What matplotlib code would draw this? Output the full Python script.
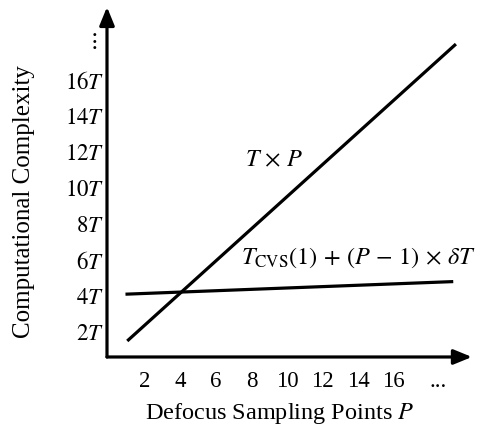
import matplotlib.pyplot as plt
import matplotlib.transforms as mtransforms
import numpy as np

plt.rcParams['font.family'] = ['Liberation Serif', 'DejaVu Serif']
plt.rcParams['mathtext.fontset'] = 'stix'

# data (units of T)
p_linear = [1.0, 19.5]
c_linear = [1.5, 18.0]
p_cvs = [0.9, 19.35]
c_cvs = [4.1, 4.8]

x_ticks = [2, 4, 6, 8, 10, 12, 14, 16, 18.5]
x_labels = ['2', '4', '6', '8', '10', '12', '14', '16', '...']
y_ticks = [2, 4, 6, 8, 10, 12, 14, 16, 18.3]
y_labels = [r'$2T$', r'$4T$', r'$6T$', r'$8T$', r'$10T$', r'$12T$',
            r'$14T$', r'$16T$', r'$\vdots$']

fig = plt.figure(figsize=(4.87, 4.30), dpi=100)
ax = fig.add_axes([0.2197, 0.1698, 0.969 - 0.2197, 0.9837 - 0.1698])
ax.set_xlim(-0.14, 20.4)
ax.set_ylim(0.61, 20.06)

# lines
ax.plot(p_linear, c_linear, color='black', lw=2.3, solid_capstyle='butt')
ax.plot(p_cvs, c_cvs, color='black', lw=2.3, solid_capstyle='butt')

# axes as arrows
for s in ax.spines.values():
    s.set_visible(False)
arrow = dict(arrowstyle='-|>,head_length=1.1,head_width=0.45',
             color='black', lw=2.3, shrinkA=0, shrinkB=0)
ax.annotate('', xy=(1, 0), xytext=(0, 0), xycoords='axes fraction', arrowprops=arrow)
ax.annotate('', xy=(0, 1), xytext=(0, 0), xycoords='axes fraction', arrowprops=arrow)

ax.set_xticks(x_ticks)
ax.set_xticklabels(x_labels, fontsize=16.5)
ax.set_yticks(y_ticks)
ax.set_yticklabels(y_labels, fontsize=16.5)
ax.tick_params(axis='x', length=0, pad=10)
ax.tick_params(axis='y', length=0, pad=2)

# shift the vertical dots a bit left, as in the original
dots = ax.get_yticklabels()[-1]
dots.set_transform(dots.get_transform() +
                   mtransforms.ScaledTranslation(-0.07, 0, fig.dpi_scale_trans))

# annotations
ax.text(9.3, 11.5, r'$T\,\times\,P$', fontsize=17.5, ha='center', va='center')
ax.text(20.6, 6.1, r'$T_{\mathrm{CVS}}(1)\,+\,(P\,-\,1)\,\times\,\delta T$',
        fontsize=17.5, ha='right', va='center')

ax.set_xlabel(r'Defocus Sampling Points $P$', fontsize=17.5)
ax.xaxis.set_label_coords((280 - 107) / 365, -(401 - 357) / 350)
ax.set_ylabel('Computational Complexity', fontsize=18)
ax.yaxis.set_label_coords(-(107 - 35) / 365, (357 - 202) / 350)

fig.savefig('out.png', dpi=100)
